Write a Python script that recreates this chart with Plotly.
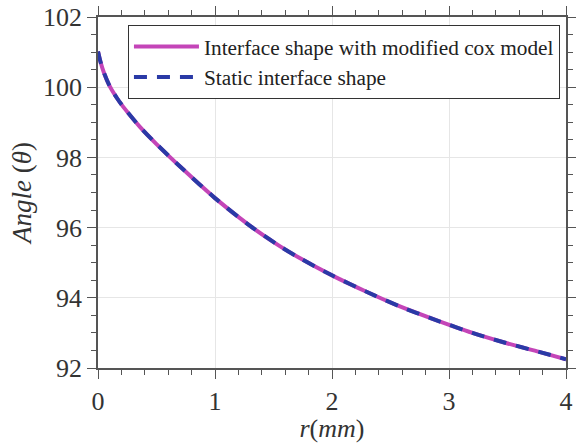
import plotly.graph_objects as go

r_mm = [0, 0.02, 0.05, 0.1, 0.16, 0.216, 0.358, 0.5, 0.727, 1.0, 1.3, 1.55, 1.72, 2.0, 2.29, 2.575, 2.86, 3.2, 3.48, 3.77, 4.0]
angle_cox = [101.02, 100.74, 100.42, 100.03, 99.70, 99.44, 98.87, 98.38, 97.66, 96.84, 96.05, 95.48, 95.14, 94.64, 94.18, 93.76, 93.40, 93.0, 92.72, 92.46, 92.25]
angle_static = [101.02, 100.74, 100.42, 100.03, 99.70, 99.44, 98.87, 98.38, 97.66, 96.84, 96.05, 95.48, 95.14, 94.64, 94.18, 93.76, 93.40, 93.0, 92.72, 92.46, 92.25]
name_cox = "Interface shape with modified cox model"
name_static = "Static interface shape"

FONT = "Liberation Serif, Times New Roman, serif"

fig = go.Figure()
fig.add_trace(go.Scatter(x=r_mm, y=angle_cox, mode="lines", name=name_cox,
                         line=dict(color="#C445B8", width=4, shape="spline", smoothing=0.8)))
fig.add_trace(go.Scatter(x=r_mm, y=angle_static, mode="lines", name=name_static,
                         line=dict(color="#2A3AA6", width=4, dash="13px,10px", shape="spline", smoothing=0.8)))

axis_common = dict(
    showline=True, linecolor="#555555", linewidth=1.5, mirror="ticks",
    ticks="outside", ticklen=9, tickwidth=1.2, tickcolor="#555555",
    showgrid=True, gridcolor="#e6e6e6", gridwidth=1, zeroline=False,
    tickfont=dict(family=FONT, size=26, color="#333333"),
    automargin=False, ticklabeloverflow="allow",
)

fig.update_xaxes(range=[0, 4], dtick=1, tick0=0,
                 minor=dict(dtick=0.2, ticks="outside", ticklen=5, tickcolor="#555555", showgrid=False),
                 title=dict(text="<i>r</i>(<i>mm</i>)", font=dict(family=FONT, size=26, color="#333333"), standoff=0),
                 **axis_common)
fig.update_yaxes(range=[92, 102], dtick=2, tick0=92,
                 minor=dict(dtick=0.5, ticks="outside", ticklen=5, tickcolor="#555555", showgrid=False),
                 title=dict(text="<i>Angle</i> (<i>θ</i>)", font=dict(family=FONT, size=27, color="#333333"), standoff=4),
                 **axis_common)

fig.update_layout(
    width=576, height=443,
    margin=dict(l=98, r=10, t=17, b=75),
    paper_bgcolor="white", plot_bgcolor="white",
    showlegend=True,
    legend=dict(x=0.064, y=0.977, xanchor="left", yanchor="top",
                bgcolor="white", bordercolor="#333333", borderwidth=1,
                font=dict(family=FONT, size=21.3, color="#222222"),
                tracegroupgap=0, itemwidth=65),
)

fig.write_html("out.html", config={"displayModeBar": False},
               post_script="document.body.style.margin='0';")
